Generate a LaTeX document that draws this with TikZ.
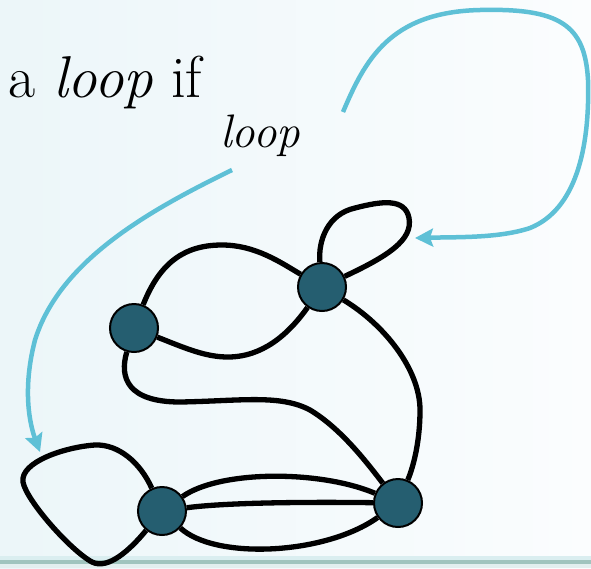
\documentclass[tikz,border=0pt]{standalone}
\usetikzlibrary{arrows.meta}
\pgfdeclarelayer{bg}
\pgfdeclarelayer{edges}
\pgfsetlayers{bg,edges,main}
\definecolor{nodeteal}{RGB}{37,94,112}
\definecolor{arrowcyan}{RGB}{94,192,214}
\definecolor{bgleft}{RGB}{236,246,249}
\definecolor{bgright}{RGB}{251,253,254}
\definecolor{stripA}{RGB}{218,238,240}
\definecolor{stripB}{RGB}{160,196,190}
\definecolor{stripC}{RGB}{226,239,239}
\tikzset{
  vertex/.style={circle, draw=black, line width=2pt, fill=nodeteal, minimum size=48pt, inner sep=0pt},
  edgeline/.style={draw=black, line width=5.3pt},
  pointer/.style={draw=arrowcyan, line width=4.5pt, -{Stealth[length=18pt,width=18pt,inset=3pt]}},
}
\begin{document}
\begin{tikzpicture}[x=1pt,y=-1pt]
\useasboundingbox (0,0) rectangle (591,568);
\begin{pgfonlayer}{bg}
  \shade[left color=bgleft, right color=bgright] (0,0) rectangle (591,568);
  \fill[stripA] (0,556) rectangle (591,560);
  \fill[stripB] (0,560) rectangle (591,563.5);
  \fill[stripC] (0,563.5) rectangle (591,568);
\end{pgfonlayer}

% text
\node[anchor=base west, inner sep=0pt, font=\fontsize{59}{62}\selectfont] (title) at (8,97) {a \textit{loop} if};
\node[anchor=base west, inner sep=0pt, font=\fontsize{47}{50}\selectfont\itshape] (lbl) at (220,147) {loop};

% vertices
\node[vertex] (A) at (134,328) {};
\node[vertex] (B) at (322,287) {};
\node[vertex] (C) at (162,511) {};
\node[vertex] (D) at (398,503) {};

\begin{pgfonlayer}{edges}
  % A-B upper
  \draw[edgeline] (A) .. controls (160,262) and (185,245) .. (222,245) .. controls (255,245) and (280,262) .. (B);
  % A-B lower
  \draw[edgeline] (A) .. controls (185,348) and (205,357) .. (228,357) .. controls (262,357) and (288,335) .. (B);
  % loop at B
  \draw[edgeline] (B) .. controls (318,240) and (328,214) .. (355,208) .. controls (382,201) and (405,198) .. (409,218) .. controls (413,240) and (388,256) .. (B);
  % A-D long
  \draw[edgeline] (A) .. controls (119,378) and (128,402) .. (180,402) .. controls (240,401) and (280,394) .. (310,410) .. controls (340,428) and (365,460) .. (D);
  % B-D
  \draw[edgeline] (B) .. controls (385,325) and (420,370) .. (420,410) .. controls (420,445) and (412,470) .. (D);
  % C-D three edges
  \draw[edgeline] (C) .. controls (220,470) and (320,470) .. (D);
  \draw[edgeline] (C) .. controls (230,502) and (320,502) .. (D);
  \draw[edgeline] (C) .. controls (215,560) and (325,555) .. (D);
  % loop at C
  \draw[edgeline] (C) .. controls (140,462) and (118,444) .. (95,445) .. controls (65,447) and (20,462) .. (23,482) .. controls (26,500) and (70,550) .. (92,562) .. controls (108,570) and (130,550) .. (C);
\end{pgfonlayer}

% pointers
\coordinate (s1) at (343,112);
\coordinate (t1) at (415,238);
\coordinate (s2) at (232,170);
\coordinate (t2) at (40,452);
\draw[pointer] (s1) .. controls (365,60) and (390,12) .. (480,10) .. controls (560,8) and (585,25) .. (588,80) .. controls (590,150) and (575,210) .. (530,228) .. controls (500,238) and (460,237) .. (t1);
\draw[pointer] (s2) .. controls (150,210) and (60,260) .. (35,340) .. controls (22,390) and (30,425) .. (t2);
\end{tikzpicture}
\end{document}
